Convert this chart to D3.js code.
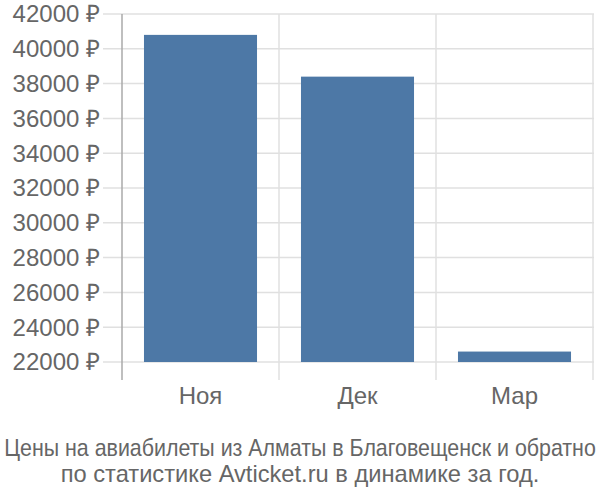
<!DOCTYPE html>
<html><head><meta charset="utf-8">
<script src="https://cdn.jsdelivr.net/npm/d3@7"></script>
<style>body{margin:0;background:#fff;} svg{display:block;}</style>
</head><body>
<script>
const categories = ["Ноя", "Дек", "Мар"];
const values = [40800, 38400, 22600];
const yTicks = [22000, 24000, 26000, 28000, 30000, 32000, 34000, 36000, 38000, 40000, 42000];
const titleLines = ["Цены на авиабилеты из Алматы в Благовещенск и обратно", "по статистике Avticket.ru в динамике за год."];

(function () {
const W = 600, H = 500;
const mLeft = 122, mRight = 593, mTop = 14, mBottom = 362;
const svg = d3.select("body").append("svg").attr("width", W).attr("height", H);

const y = d3.scaleLinear().domain([22000, 42000]).range([mBottom, mTop]);
const x = d3.scaleBand().domain(categories).range([mLeft, mRight]).paddingInner(0.28).paddingOuter(0.14);
const xb = d3.scaleBand().domain(categories).range([mLeft, mRight]);

const font = "'Liberation Sans', Arial, sans-serif";
svg.append("g").selectAll("line").data(yTicks).join("line")
  .attr("x1", 103).attr("x2", mRight + 1)
  .attr("y1", d => y(d)).attr("y2", d => y(d))
  .attr("stroke", "#e0e0e0").attr("stroke-width", 1.5);
const seps = categories.slice(1).map(d => xb(d)).concat([mRight]);
svg.append("g").selectAll("line").data(seps).join("line")
  .attr("x1", d => d).attr("x2", d => d)
  .attr("y1", mTop).attr("y2", 380)
  .attr("stroke", "#e0e0e0").attr("stroke-width", 1.5);
svg.append("g").selectAll("rect").data(values).join("rect")
  .attr("x", (d, i) => x(categories[i])).attr("width", x.bandwidth())
  .attr("y", d => y(d)).attr("height", d => y(22000) - y(d))
  .attr("fill", "#4d78a6");
svg.append("line").attr("x1", mLeft).attr("x2", mLeft).attr("y1", mTop).attr("y2", 380)
  .attr("stroke", "#aaaaaa").attr("stroke-width", 1.5);
svg.append("g").selectAll("text").data(yTicks).join("text")
  .attr("x", 100).attr("y", d => y(d)).attr("dy", "0.35em")
  .attr("text-anchor", "end").attr("font-family", font).attr("font-size", 24)
  .attr("fill", "#666").text(d => d + " ₽");
svg.append("g").selectAll("text").data(categories).join("text")
  .attr("x", d => xb(d) + xb.bandwidth() / 2).attr("y", 404)
  .attr("text-anchor", "middle").attr("font-family", font).attr("font-size", 24)
  .attr("fill", "#666").text(d => d);
const tl = [592, 479];
const tg = svg.append("g").selectAll("g").data(titleLines).join("g");
tg.append("text")
  .attr("text-anchor", "middle").attr("font-family", font).attr("font-size", 24)
  .attr("fill", "#666").text(d => d);
tg.each(function (d, i) {
  const t = d3.select(this).select("text").node();
  const w = t.getComputedTextLength();
  const sx = Math.min(1, tl[i] / w);
  d3.select(this).attr("transform", `translate(300,${456 + i * 26}) scale(${sx},1)`);
});
})();
</script>
</body></html>
